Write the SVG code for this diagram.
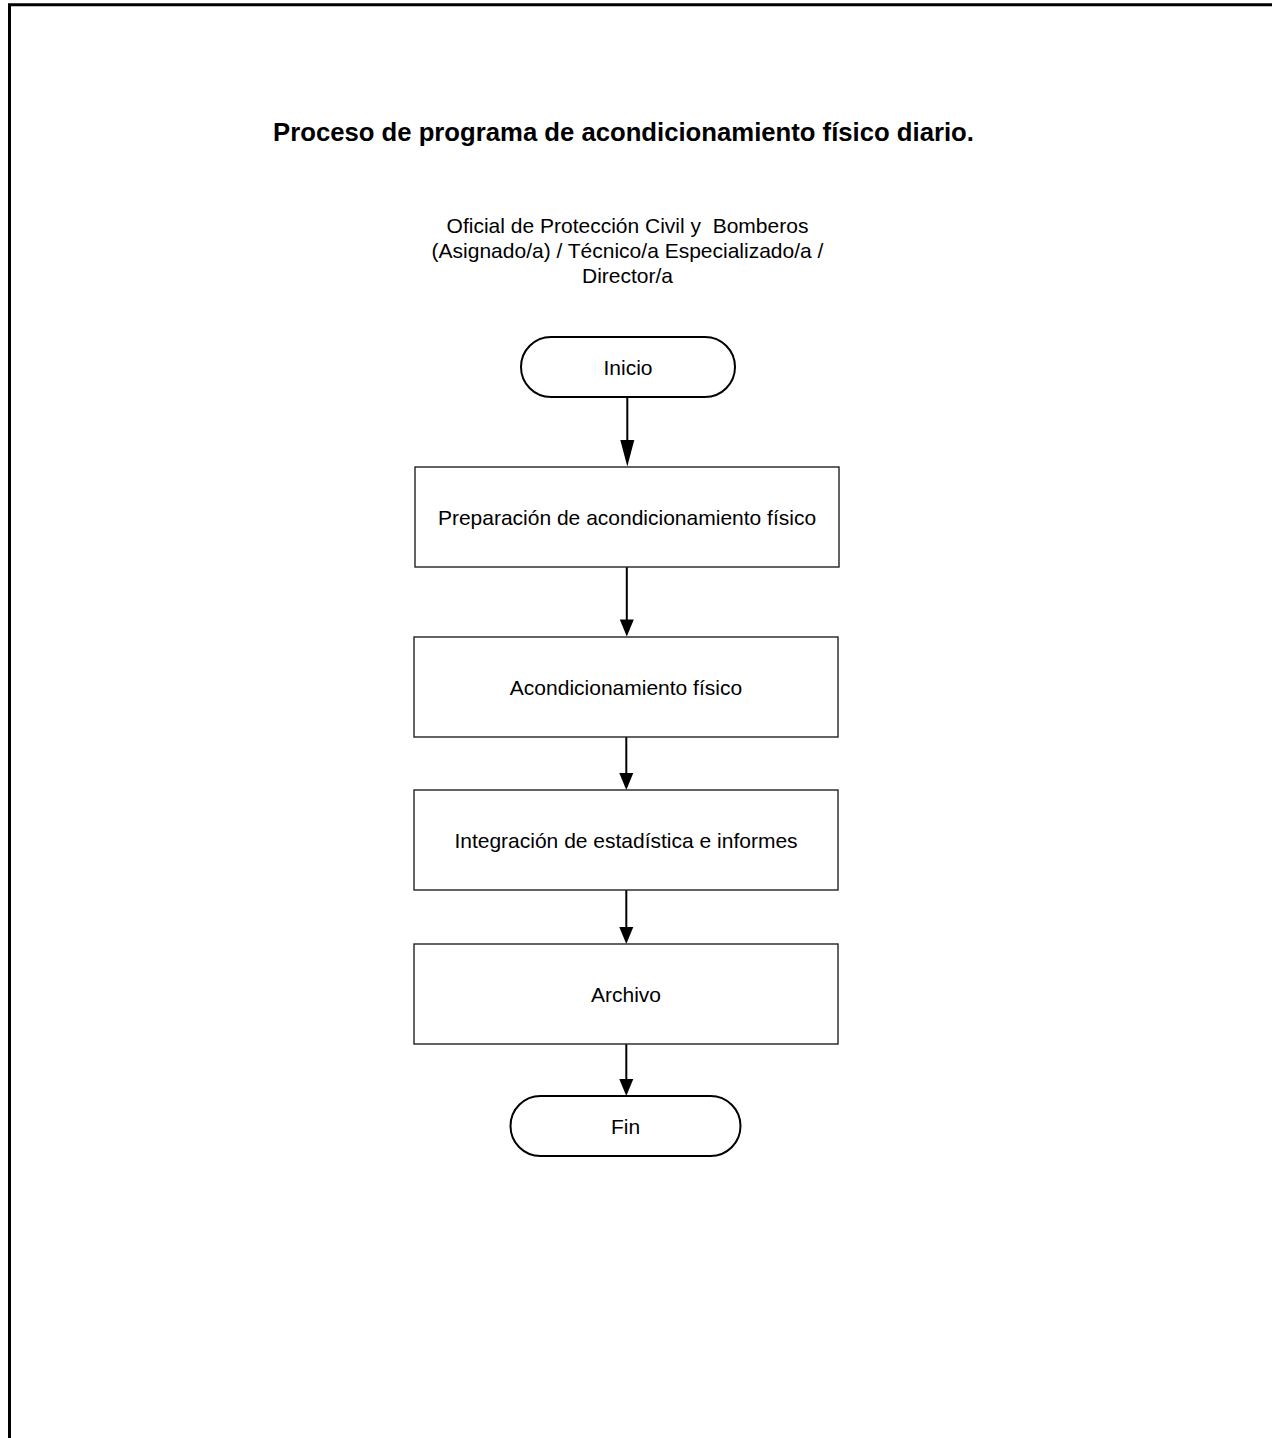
<svg xmlns="http://www.w3.org/2000/svg" width="1272" height="1438" viewBox="0 0 1272 1438">
<style>
.t{font-family:"Liberation Sans",Arial,sans-serif;font-size:21px;fill:#000;text-anchor:middle}
.title{font-family:"Liberation Sans",Arial,sans-serif;font-size:25.7px;font-weight:bold;fill:#000;text-anchor:middle}
.box{fill:#fff;stroke:#222;stroke-width:1.4}
.term{fill:#fff;stroke:#000;stroke-width:2}
.conn line{stroke:#000;stroke-width:2}
.conn polygon{fill:#000}
</style>
<rect width="1272" height="1438" fill="#fff"/>
<path d="M9.5,1438 V4.8 H1272" fill="none" stroke="#000" stroke-width="3"/>
<text class="title" x="623.5" y="141">Proceso de programa de acondicionamiento físico diario.</text>
<g id="lane-header">
<text class="t" x="627.5" y="233" xml:space="preserve">Oficial de Protección Civil y  Bomberos</text>
<text class="t" x="627.5" y="258">(Asignado/a) / Técnico/a Especializado/a /</text>
<text class="t" x="627.5" y="283">Director/a</text>
</g>
<g id="connectors" class="conn">
<line x1="627.3" y1="397" x2="627.3" y2="445"/>
<polygon points="620.3,440 634.3,440 627.3,466.5"/>
<line x1="626.8" y1="567" x2="626.8" y2="622"/>
<polygon points="619.8,619.5 633.8,619.5 626.8,636.5"/>
<line x1="626.3" y1="737" x2="626.3" y2="775"/>
<polygon points="619.3,773 633.3,773 626.3,790"/>
<line x1="626.3" y1="890" x2="626.3" y2="929"/>
<polygon points="619.3,927 633.3,927 626.3,944"/>
<line x1="626.3" y1="1044" x2="626.3" y2="1081"/>
<polygon points="619.3,1079 633.3,1079 626.3,1096"/>
</g>
<g id="inicio">
<rect class="term" x="521" y="337" width="214" height="60" rx="30" ry="30"/>
<text class="t" x="628" y="374.5">Inicio</text>
</g>
<g id="preparacion">
<rect class="box" x="415" y="467" width="424" height="100"/>
<text class="t" x="627" y="524.5">Preparación de acondicionamiento físico</text>
</g>
<g id="acondicionamiento">
<rect class="box" x="414" y="637" width="424" height="100"/>
<text class="t" x="626" y="694.5">Acondicionamiento físico</text>
</g>
<g id="integracion">
<rect class="box" x="414" y="790" width="424" height="100"/>
<text class="t" x="626" y="847.5">Integración de estadística e informes</text>
</g>
<g id="archivo">
<rect class="box" x="414" y="944" width="424" height="100"/>
<text class="t" x="626" y="1001.5">Archivo</text>
</g>
<g id="fin">
<rect class="term" x="510.5" y="1096" width="230" height="60" rx="30" ry="30"/>
<text class="t" x="625.5" y="1133.5">Fin</text>
</g>
</svg>
